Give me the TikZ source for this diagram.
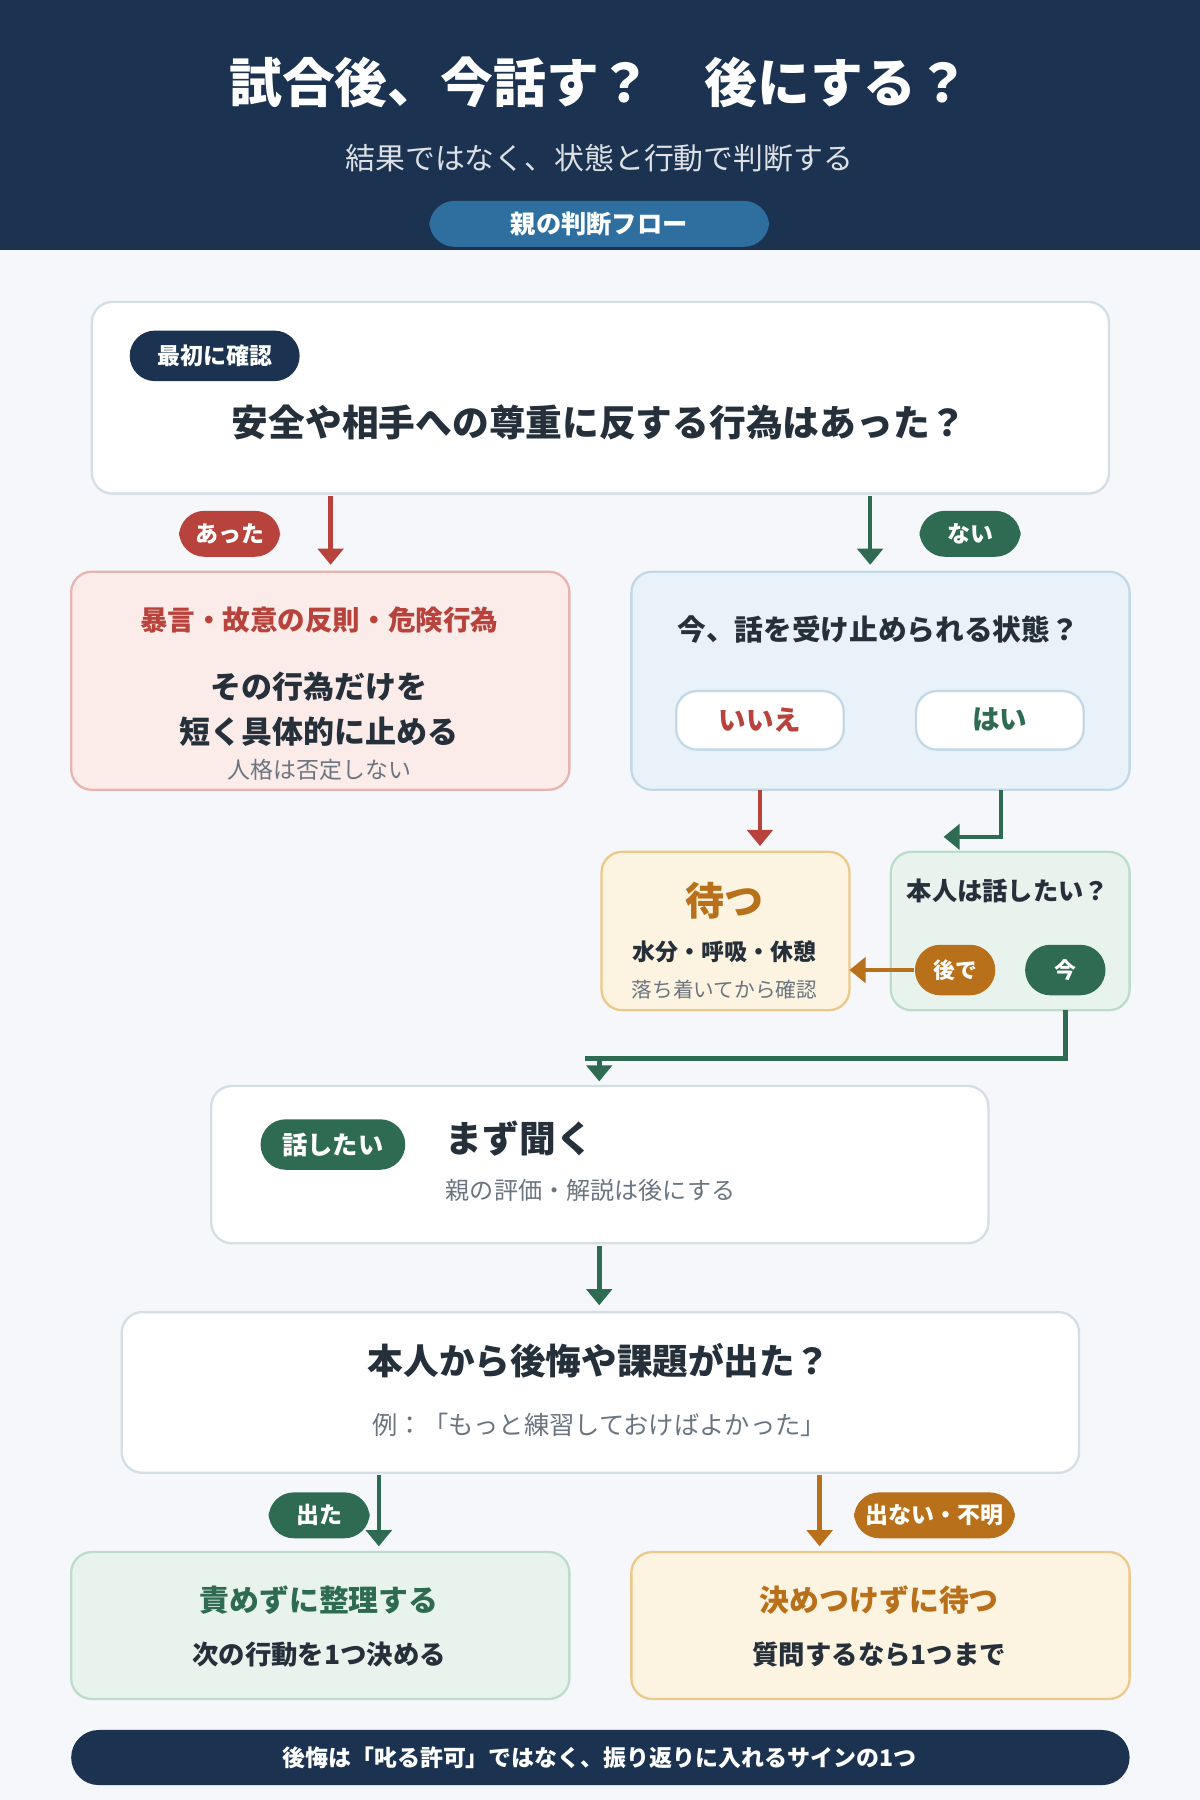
\documentclass[tikz,border=0pt]{standalone}
\usepackage{fontspec}
\setmainfont{Noto Sans CJK JP}
\usetikzlibrary{arrows.meta}
\definecolor{navy}{HTML}{1B3350}
\definecolor{pillblue}{HTML}{2E6FA0}
\definecolor{bodybg}{HTML}{F5F7FA}
\definecolor{redc}{HTML}{B8433D}
\definecolor{greenc}{HTML}{2E6B52}
\definecolor{orangec}{HTML}{B8701A}
\definecolor{darkt}{HTML}{26303A}
\definecolor{grayt}{HTML}{6B7580}
\definecolor{redbg}{HTML}{FBECEA}\definecolor{redbd}{HTML}{E8B4B0}
\definecolor{bluebg}{HTML}{EAF2F9}\definecolor{bluebd}{HTML}{C2D8E6}
\definecolor{orbg}{HTML}{FDF3E1}\definecolor{orbd}{HTML}{ECC98A}
\definecolor{grbg}{HTML}{E8F3EE}\definecolor{grbd}{HTML}{BCDCCC}
\definecolor{wbd}{HTML}{D5DDE5}
\newcommand{\fs}[1]{\fontsize{#1}{#1}\selectfont}
\tikzset{
 box/.style={rounded corners=9pt,line width=1pt},
 pill/.style={rounded corners=11pt,inner sep=0pt,text=white,font=\fs{10}\bfseries},
 arr/.style={line width=2pt,-{Triangle[length=7pt,width=11pt]}},
 txt/.style={inner sep=0pt}
}
\begin{document}
\begin{tikzpicture}[x=0.5pt,y=-0.5pt]
\useasboundingbox (0,0) rectangle (1045,1568);
\fill[bodybg] (0,0) rectangle (1045,1568);
\fill[navy] (0,0) rectangle (1045,218);
\node[txt,text=white,font=\fs{23}\bfseries] (title) at (522,72) {試合後、今話す？\quad 後にする？};
\node[txt,text=white!85!navy,font=\fs{13}] (sub) at (522,138) {結果ではなく、状態と行動で判断する};
\node[pill,fill=pillblue,minimum width=148pt,minimum height=20pt,font=\fs{11}\bfseries] (flow) at (522,195) {親の判断フロー};

% box 1
\draw[box,fill=white,draw=wbd] (80,263) rectangle (966,430);
\node[pill,fill=navy,minimum width=74pt,minimum height=22pt] (p1) at (187,310) {最初に確認};
\node[txt,text=darkt,font=\fs{16}\bfseries] (q1) at (522,368) {安全や相手への尊重に反する行為はあった？};
\coordinate (a1s) at (288,432); \coordinate (a1e) at (288,492);
\draw[arr,redc] (a1s) -- (a1e);
\node[pill,fill=redc,minimum width=44pt,minimum height=20pt] (l1) at (200,465) {あった};
\coordinate (a2s) at (758,432); \coordinate (a2e) at (758,492);
\draw[arr,greenc] (a2s) -- (a2e);
\node[pill,fill=greenc,minimum width=44pt,minimum height=20pt] (l2) at (845,465) {ない};

% red box
\draw[box,fill=redbg,draw=redbd] (62,498) rectangle (496,688);
\node[txt,text=redc,font=\fs{12}\bfseries] (r1) at (278,540) {暴言・故意の反則・危険行為};
\node[txt,text=darkt,font=\fs{13.5}\bfseries] (r2) at (278,598) {その行為だけを};
\node[txt,text=darkt,font=\fs{13.5}\bfseries] (r3) at (278,637) {短く具体的に止める};
\node[txt,text=grayt,font=\fs{10}] (r4) at (278,671) {人格は否定しない};

% blue box
\draw[box,fill=bluebg,draw=bluebd] (550,498) rectangle (984,688);
\node[txt,text=darkt,font=\fs{12.5}\bfseries] (b1) at (765,548) {今、話を受け止められる状態？};
\draw[box,fill=white,draw=bluebd] (589,602) rectangle (735,653);
\node[txt,text=redc,font=\fs{12}\bfseries] (no) at (662,627) {いいえ};
\draw[box,fill=white,draw=bluebd] (798,602) rectangle (944,653);
\node[txt,text=greenc,font=\fs{12}\bfseries] (yes) at (871,627) {はい};
\coordinate (a3s) at (662,688); \coordinate (a3e) at (662,737);
\draw[arr,redc] (a3s) -- (a3e);
\coordinate (a4s) at (872,688); \coordinate (a4e) at (822,729);
\draw[arr,greenc] (a4s) |- (a4e);

% wait box
\draw[box,fill=orbg,draw=orbd] (524,742) rectangle (740,880);
\node[txt,text=orangec,font=\fs{17}\bfseries] (w1) at (631,785) {待つ};
\node[txt,text=darkt,font=\fs{10}\bfseries] (w2) at (631,829) {水分・呼吸・休憩};
\node[txt,text=grayt,font=\fs{9}] (w3) at (631,862) {落ち着いてから確認};

% green box
\draw[box,fill=grbg,draw=grbd] (776,742) rectangle (984,880);
\node[txt,text=darkt,font=\fs{11}\bfseries] (g1) at (878,776) {本人は話したい？};
\node[pill,fill=orangec,minimum width=35pt,minimum height=22pt,font=\fs{9.5}\bfseries] (later) at (832,845) {後で};
\node[pill,fill=greenc,minimum width=35pt,minimum height=22pt,font=\fs{9.5}\bfseries] (now) at (928,845) {今};
\coordinate (a5e) at (740,845);
\draw[arr,orangec] (later.west) -- (a5e);
\coordinate (a6s) at (928,880); \coordinate (a6m) at (928,922); \coordinate (a6n) at (522,922); \coordinate (a6e) at (522,942);
\draw[line width=2pt,greenc] (a6s) -- (a6m) -- (510,922);
\draw[arr,greenc] (a6n) -- (a6e);

% talk box
\draw[box,fill=white,draw=wbd] (184,946) rectangle (861,1083);
\node[pill,fill=greenc,minimum width=63pt,minimum height=22pt,font=\fs{11}\bfseries] (pt) at (290,997) {話したい};
\node[txt,anchor=west,text=darkt,font=\fs{16}\bfseries] (t1) at (388,992) {まず聞く};
\node[txt,anchor=west,text=grayt,font=\fs{10.5}] (t2) at (388,1037) {親の評価・解説は後にする};
\coordinate (a7s) at (522,1085); \coordinate (a7e) at (522,1137);
\draw[arr,greenc] (a7s) -- (a7e);

% regret box
\draw[box,fill=white,draw=wbd] (106,1143) rectangle (940,1283);
\node[txt,text=darkt,font=\fs{15.5}\bfseries] (k1) at (522,1185) {本人から後悔や課題が出た？};
\node[txt,text=grayt,font=\fs{11}] (k2) at (522,1241) {例：「もっと練習しておけばよかった」};
\coordinate (a8s) at (330,1285); \coordinate (a8e) at (330,1347);
\draw[arr,greenc] (a8s) -- (a8e);
\node[pill,fill=greenc,minimum width=44pt,minimum height=20pt] (l8) at (278,1320) {出た};
\coordinate (a9s) at (714,1285); \coordinate (a9e) at (714,1347);
\draw[arr,orangec] (a9s) -- (a9e);
\node[pill,fill=orangec,minimum width=70pt,minimum height=20pt] (l9) at (814,1320) {出ない・不明};

% final boxes
\draw[box,fill=grbg,draw=grbd] (62,1352) rectangle (496,1480);
\node[txt,text=greenc,font=\fs{13}\bfseries] (f1) at (278,1394) {責めずに整理する};
\node[txt,text=darkt,font=\fs{11.5}\bfseries] (f2) at (278,1441) {次の行動を1つ決める};
\draw[box,fill=orbg,draw=orbd] (550,1352) rectangle (984,1480);
\node[txt,text=orangec,font=\fs{13}\bfseries] (f3) at (766,1394) {決めつけずに待つ};
\node[txt,text=darkt,font=\fs{11.5}\bfseries] (f4) at (766,1441) {質問するなら1つまで};

% footer
\fill[navy,rounded corners=12pt] (62,1507) rectangle (984,1555);
\node[txt,text=white,font=\fs{10}\bfseries] (foot) at (522,1531) {後悔は「叱る許可」ではなく、振り返りに入れるサインの1つ};
\end{tikzpicture}
\end{document}
